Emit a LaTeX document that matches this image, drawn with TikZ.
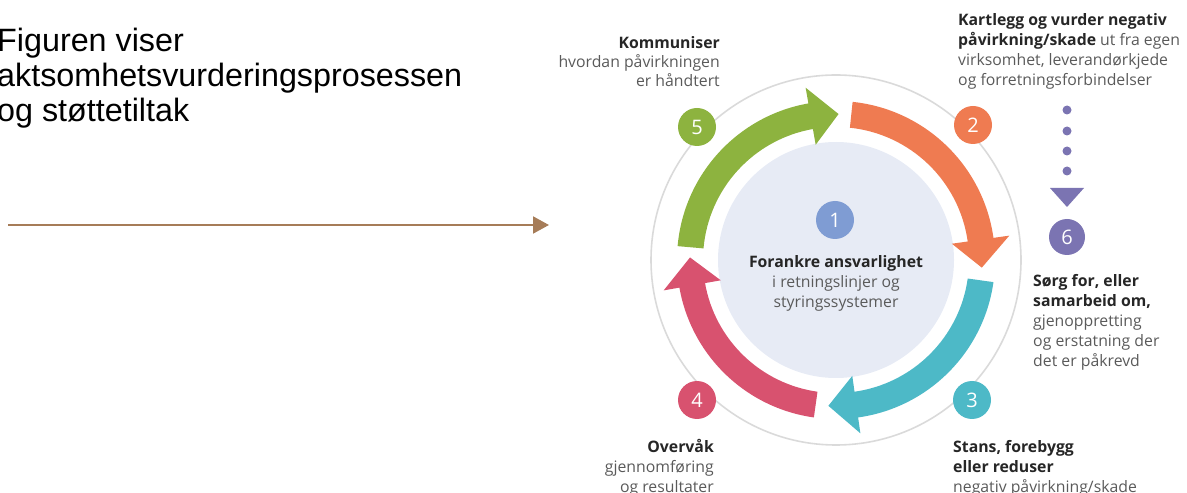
\documentclass[tikz,border=0pt]{standalone}
\usepackage{fontspec}
\setmainfont{Open Sans}
\newfontfamily\titlefont{Liberation Sans}
\usetikzlibrary{arrows.meta}
\definecolor{cgreen}{HTML}{8DB33F}
\definecolor{corange}{HTML}{EF7B51}
\definecolor{ccyan}{HTML}{4DB9C7}
\definecolor{cpink}{HTML}{D8526F}
\definecolor{clight}{HTML}{E7EBF5}
\definecolor{cblue}{HTML}{7F9CD3}
\definecolor{cpurple}{HTML}{7B74B2}
\definecolor{cring}{HTML}{DADADA}
\definecolor{cbrown}{HTML}{A67C58}
\definecolor{tdark}{HTML}{262626}
\definecolor{tgray}{HTML}{5A5A5A}
\newcommand\cyclearrow[3]{%
  \pgfmathsetmacro\hb{#3+11}%
  \fill[#1] (#2:159) arc[start angle=#2, end angle=\hb, radius=159]
    -- (\hb:175) -- (#3:146) -- (\hb:117) -- (\hb:133)
    arc[start angle=\hb, end angle=#2, radius=133] -- cycle;}
\newcommand\bt[1]{\textcolor{tdark}{\textbf{#1}}}
\tikzset{
  numcirc/.style={circle, minimum size=38pt, inner sep=0pt, text=white,
    font=\fontsize{20}{20}\selectfont},
  lbl/.style={inner sep=0pt, text=tgray, font=\fontsize{15.8}{20}\selectfont},
}
\begin{document}
\begin{tikzpicture}[x=1pt,y=1pt]
\useasboundingbox (0,0) rectangle (1187,493);
% title
\node[inner sep=0pt, anchor=base west, align=left, text=black,
  font=\titlefont\fontsize{32.3}{35}\selectfont] (title) at (-3,371)
  {Figuren viser\\aktsomhetsvurderingsprosessen\\og støttetiltak};
% pointer arrow
\coordinate (arrS) at (8,268);
\coordinate (arrE) at (549,268);
\draw[cbrown, line width=2pt, -{Triangle[length=16pt,width=17pt]}] (arrS) -- (arrE);
% cycle
\coordinate (C) at (836,233);
\draw[cring, line width=1.6pt] (C) circle[radius=185];
\fill[clight] (C) circle[radius=118];
\begin{scope}[shift={(836,233)}]
  \cyclearrow{cgreen}{175}{89}
  \cyclearrow{corange}{84}{-3}
  \cyclearrow{ccyan}{-8}{-93}
  \cyclearrow{cpink}{262}{179}
\end{scope}
\node[numcirc, fill=cblue] (n1) at (835,273) {1};
\node[numcirc, fill=corange] (n2) at (973,368) {2};
\node[numcirc, fill=ccyan] (n3) at (972,93) {3};
\node[numcirc, fill=cpink] (n4) at (697,93) {4};
\node[numcirc, fill=cgreen] (n5) at (697,366) {5};
\node[numcirc, fill=cpurple, minimum size=36pt] (n6) at (1067,256) {6};
% dots and triangle
\foreach \yy in {383,362,342,322} \fill[cpurple] (1067,\yy) circle[radius=4.5];
\fill[cpurple] (1050,305) -- (1084,305) -- (1067,286) -- cycle;
% center text
\node[lbl, anchor=base, align=center, font=\fontsize{15.8}{20}\selectfont] (ctext) at (836,185)
  {\bt{Forankre ansvarlighet}\\i retningslinjer og\\styringssystemer};
% labels
\node[lbl, anchor=base east, align=right, font=\fontsize{15.8}{19}\selectfont] (l5) at (720,406)
  {\bt{Kommuniser}\\hvordan påvirkningen\\er håndtert};
\node[lbl, anchor=base west, align=left] (l2) at (958,407)
  {\bt{Kartlegg og vurder negativ}\\\bt{påvirkning/skade} ut fra egen\\virksomhet, leverandørkjede\\og forretningsforbindelser};
\node[lbl, anchor=base west, align=left] (l6) at (1033,126)
  {\bt{Sørg for, eller}\\\bt{samarbeid om,}\\gjenoppretting\\og erstatning der\\det er påkrevd};
\node[lbl, anchor=base west, align=left] (l3) at (953,1)
  {\bt{Stans, forebygg}\\\bt{eller reduser}\\negativ påvirkning/skade};
\node[lbl, anchor=base east, align=right] (l4) at (714,1)
  {\bt{Overvåk}\\gjennomføring\\og resultater};
\end{tikzpicture}
\end{document}
